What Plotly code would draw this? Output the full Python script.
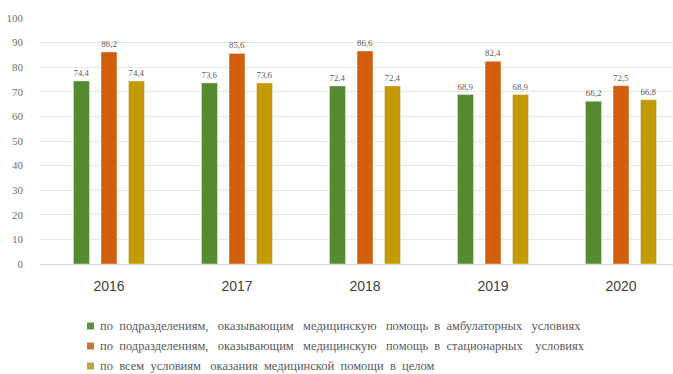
import plotly.graph_objects as go

years = ["2016", "2017", "2018", "2019", "2020"]
ambulatory = [74.4, 73.6, 72.4, 68.9, 66.2]
inpatient = [86.2, 85.6, 86.6, 82.4, 72.5]
overall = [74.4, 73.6, 72.4, 68.9, 66.8]

NB = "\u00a0"
series_names = [
    f"по{NB*2}подразделениям,{NB*3}оказывающим{NB*3}медицинскую{NB*3}помощь{NB*2}в{NB*2}амбулаторных{NB*3}условиях",
    f"по{NB*2}подразделениям,{NB*3}оказывающим{NB*3}медицинскую{NB*3}помощь{NB*2}в{NB*2}стационарных{NB*4}условиях",
    f"по{NB*2}всем{NB*2}условиям{NB*3}оказания{NB*2}медицинской{NB*2}помощи{NB*2}в{NB*2}целом",
]
colors = ["#558a30", "#d15e0c", "#c49a00"]
swatch_colors = ["#5e8f48", "#c9743a", "#bfa43a"]
y_ticks = list(range(0, 101, 10))

serif = "Liberation Serif"

fig = go.Figure()
for name, vals, col in zip(series_names, [ambulatory, inpatient, overall], colors):
    fig.add_trace(go.Bar(
        x=years, y=vals, name=name, marker_color=col, showlegend=False,
        texttemplate="%{y:.1f}", textposition="outside", cliponaxis=False,
        textfont=dict(family=serif, size=9, color="#5a5a5a"),
    ))

# legend rows drawn below the plot: small square swatch + caption
legend_x0 = 87      # px from left edge of page
legend_y0 = 326     # px from top of page, centre of first row
row_step = 20
plot_left, plot_w = 40, 633
plot_top, plot_h = 18, 246
for i, (name, col) in enumerate(zip(series_names, swatch_colors)):
    cy = legend_y0 + i * row_step
    yp = (plot_top + plot_h - cy) / plot_h
    x0 = (legend_x0 - plot_left) / plot_w
    fig.add_shape(type="rect", xref="paper", yref="paper",
                  x0=x0, x1=x0 + 7 / plot_w, y0=yp - 3.5 / plot_h, y1=yp + 3.5 / plot_h,
                  fillcolor=col, line_width=0)
    fig.add_annotation(xref="paper", yref="paper", x=x0 + 11 / plot_w, y=yp,
                       xanchor="left", yanchor="middle", showarrow=False, text=name,
                       font=dict(family=serif, size=12.5, color="#5a5a5a"))

fig.update_layout(
    width=673, height=374,
    margin=dict(l=plot_left, r=0, t=plot_top, b=374 - plot_top - plot_h, autoexpand=False),
    paper_bgcolor="white", plot_bgcolor="white",
    separators=", ",
    barmode="group", bargap=0.355, bargroupgap=0.42,
    showlegend=False,
    xaxis=dict(
        type="category", range=[-0.539, 4.406], showgrid=False, showline=False,
        ticks="", tickfont=dict(family="Liberation Sans", size=14, color="#404040"),
        ticklabelstandoff=12, tickangle=0,
    ),
    yaxis=dict(
        range=[0, 100], tickvals=y_ticks, showgrid=True, gridcolor="#e6e6e6", gridwidth=1,
        zeroline=True, zerolinecolor="#d9d9d9", zerolinewidth=1,
        tickfont=dict(family=serif, size=11, color="#707070"),
        ticks="", ticklabelstandoff=16,
    ),
)

fig.write_html("out.html")
